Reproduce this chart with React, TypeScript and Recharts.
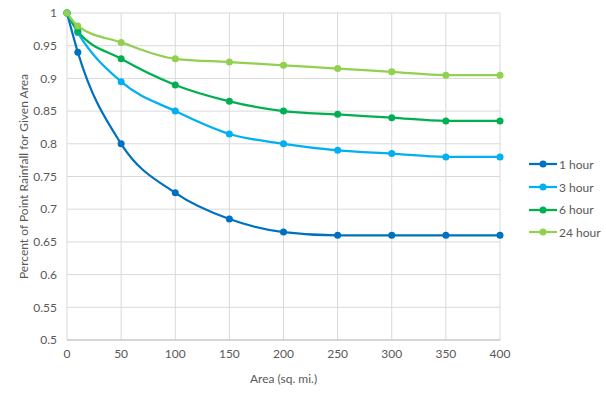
import React from "react";
import { LineChart, Line, XAxis, YAxis, CartesianGrid } from "recharts";

// Area in square miles
const areas = [0, 10, 50, 100, 150, 200, 250, 300, 350, 400];

const oneHour = [1, 0.94, 0.8, 0.725, 0.685, 0.665, 0.66, 0.66, 0.66, 0.66];
const threeHour = [1, 0.97, 0.895, 0.85, 0.815, 0.8, 0.79, 0.785, 0.78, 0.78];
const sixHour = [1, 0.972, 0.93, 0.89, 0.865, 0.85, 0.845, 0.84, 0.835, 0.835];
const twentyFourHour = [1, 0.98, 0.955, 0.93, 0.925, 0.92, 0.915, 0.91, 0.905, 0.905];

const xTicks = [0, 50, 100, 150, 200, 250, 300, 350, 400];
const yTicks = [0.5, 0.55, 0.6, 0.65, 0.7, 0.75, 0.8, 0.85, 0.9, 0.95, 1];

const series = [
  { key: "h1", name: "1 hour", values: oneHour, color: "#0070C0" },
  { key: "h3", name: "3 hour", values: threeHour, color: "#00B0F0" },
  { key: "h6", name: "6 hour", values: sixHour, color: "#00B050" },
  { key: "h24", name: "24 hour", values: twentyFourHour, color: "#92D050" },
];

const data = areas.map((area, i) => {
  const row: Record<string, number> = { area };
  series.forEach((s) => {
    row[s.key] = s.values[i];
  });
  return row;
});

const font = "Lato, 'Liberation Sans', sans-serif";
const textColor = "#595959";

const App: React.FC = () => {
  return (
    <div style={{ position: "absolute", left: 0, top: 0, width: 606, height: 396, background: "#fff", fontFamily: font }}>
      <LineChart width={606} height={396} data={data} margin={{ top: 13, right: 106, bottom: 0, left: 0 }}>
        <CartesianGrid stroke="#d9d9d9" strokeWidth={1} />
        <XAxis
          dataKey="area"
          type="number"
          domain={[0, 400]}
          ticks={xTicks}
          height={56}
          tickLine={false}
          tickSize={0}
          tickMargin={9}
          stroke="#bfbfbf"
          tick={{ fill: textColor, fontSize: 12, fontFamily: font }}
          label={{ value: "Area (sq. mi.)", position: "insideBottom", offset: 13, fill: textColor, fontSize: 12, fontFamily: font }}
        />
        <YAxis
          type="number"
          domain={[0.5, 1]}
          ticks={yTicks}
          width={67}
          axisLine={false}
          tickLine={false}
          tickSize={0}
          tickMargin={10}
          tick={{ fill: textColor, fontSize: 12, fontFamily: font }}
          label={{ value: "Percent of Point Rainfall for Given Area", angle: -90, position: "insideLeft", offset: 24, fill: textColor, fontSize: 12, fontFamily: font, style: { textAnchor: "middle" } }}
        />
        {series.map((s) => (
          <Line
            key={s.key}
            dataKey={s.key}
            name={s.name}
            type="monotone"
            stroke={s.color}
            strokeWidth={2.25}
            dot={{ r: 3.5, fill: s.color, stroke: s.color, strokeWidth: 0 }}
            activeDot={false}
            isAnimationActive={false}
          />
        ))}
      </LineChart>
      <div style={{ position: "absolute", left: 528, top: 153 }}>
        {series.map((s) => (
          <div key={s.key} style={{ display: "flex", alignItems: "center", height: 22.7 }}>
            <svg width={30} height={10}>
              <line x1={1} y1={5} x2={29} y2={5} stroke={s.color} strokeWidth={2.25} />
              <circle cx={15} cy={5} r={3.5} fill={s.color} />
            </svg>
            <span style={{ fontSize: 12, color: textColor, marginLeft: 1 }}>{s.name}</span>
          </div>
        ))}
      </div>
    </div>
  );
};

export default App;
